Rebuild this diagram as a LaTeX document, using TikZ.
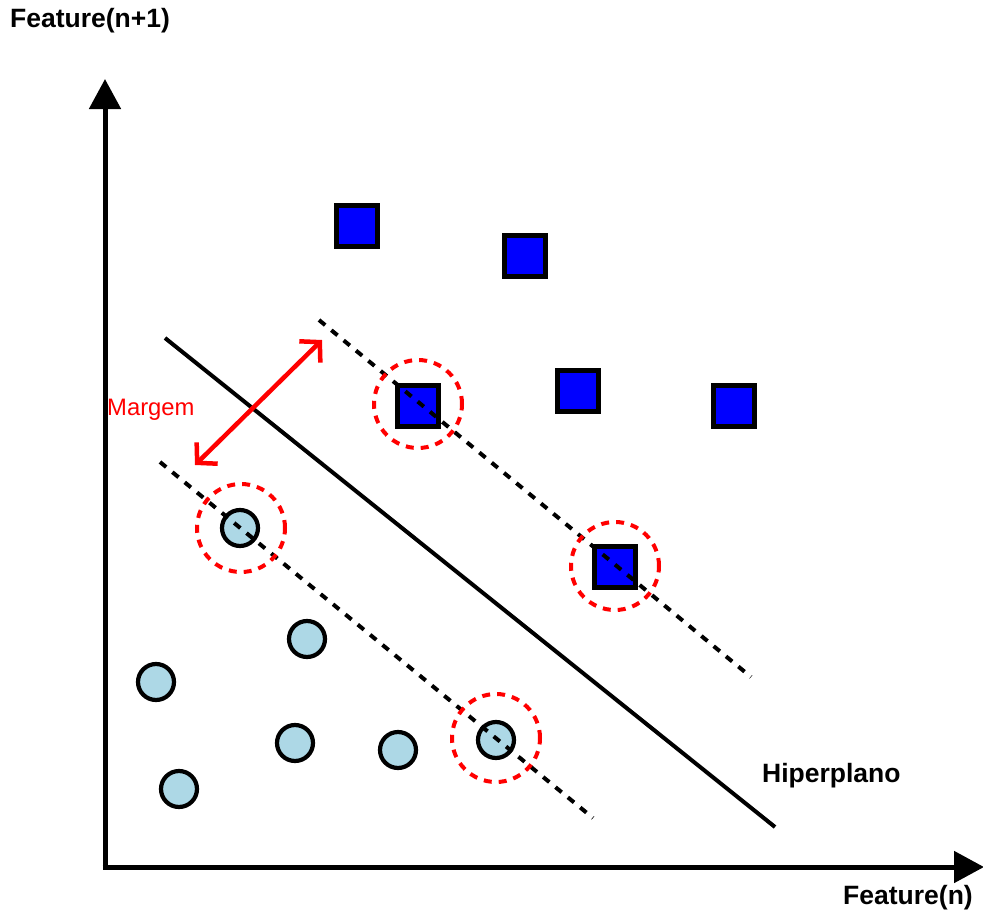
\documentclass[tikz,border=0pt]{standalone}
\usepackage{fontspec}
\setmainfont{Liberation Sans}
\usetikzlibrary{arrows.meta}
\definecolor{sqblue}{RGB}{0,0,255}
\definecolor{cirblue}{RGB}{173,216,230}
\definecolor{mred}{RGB}{255,0,0}
\begin{document}
\begin{tikzpicture}[x=1pt,y=-1pt,
  sq/.style={rectangle,draw=black,fill=sqblue,line width=4.5pt,minimum size=41pt,inner sep=0pt},
  pt/.style={circle,draw=black,fill=cirblue,line width=4.2pt,minimum size=36pt,inner sep=0pt},
  supp/.style={circle,draw=mred,dash pattern=on 8pt off 7pt,line width=4pt,minimum size=88pt,inner sep=0pt},
  marginline/.style={draw=black,line width=4pt,dash pattern=on 8pt off 8pt},
  axis/.style={line width=5pt,-{Triangle[length=30pt,width=31pt]}},
  lbl/.style={font=\bfseries\fontsize{26.5}{31}\selectfont,inner sep=0pt}]
\useasboundingbox (0,0) rectangle (983,918);
% axes
\coordinate (o) at (105,867);
\coordinate (ytop) at (105,79);
\coordinate (xend) at (984,867);
\draw[axis] ([yshift=-2.5pt]o) -- (ytop);
\draw[axis] ([xshift=-2.5pt]o) -- (xend);
% squares
\node[sq] (s1) at (357,226) {};
\node[sq] (s2) at (525,256) {};
\node[sq] (s3) at (578,391) {};
\node[sq] (s4) at (734,406) {};
\node[sq] (s5) at (418,406) {};
\node[sq] (s6) at (615,567) {};
% circles
\node[pt] (c1) at (240,528) {};
\node[pt] (c2) at (307,639) {};
\node[pt] (c3) at (156,682) {};
\node[pt] (c4) at (295,743) {};
\node[pt] (c5) at (398,750) {};
\node[pt] (c6) at (496,740) {};
\node[pt] (c7) at (179,789) {};
% hyperplane and margins
\coordinate (h1) at (165,338);
\coordinate (h2) at (775,827);
\draw[line width=4pt] (h1) -- (h2);
\coordinate (m1a) at (319,320);
\coordinate (m1b) at (751,677);
\coordinate (m2a) at (160,462);
\coordinate (m2b) at (593,818);
\draw[marginline] (m1a) -- (m1b);
\draw[marginline] (m2a) -- (m2b);
% support vector rings
\node[supp] (r1) at (418,404) {};
\node[supp] (r2) at (615,566) {};
\node[supp] (r3) at (241,528) {};
\node[supp] (r4) at (496,738) {};
% margin arrow
\coordinate (ma) at (195,465);
\coordinate (mb) at (322,340);
\draw[mred,line width=4.5pt,{Straight Barb[length=14pt,width=30pt]}-{Straight Barb[length=14pt,width=30pt]}] (ma) -- (mb);
\node[text=mred,font=\fontsize{23.8}{28}\selectfont,anchor=west,inner sep=0pt] (mt) at (107,410) {Margem};
% labels
\node[lbl,anchor=west] (ly) at (10,21) {Feature(n+1)};
\node[lbl,anchor=east] (lx) at (973,898) {Feature(n)};
\node[lbl,anchor=west] (lh) at (762,776) {Hiperplano};
\end{tikzpicture}
\end{document}
